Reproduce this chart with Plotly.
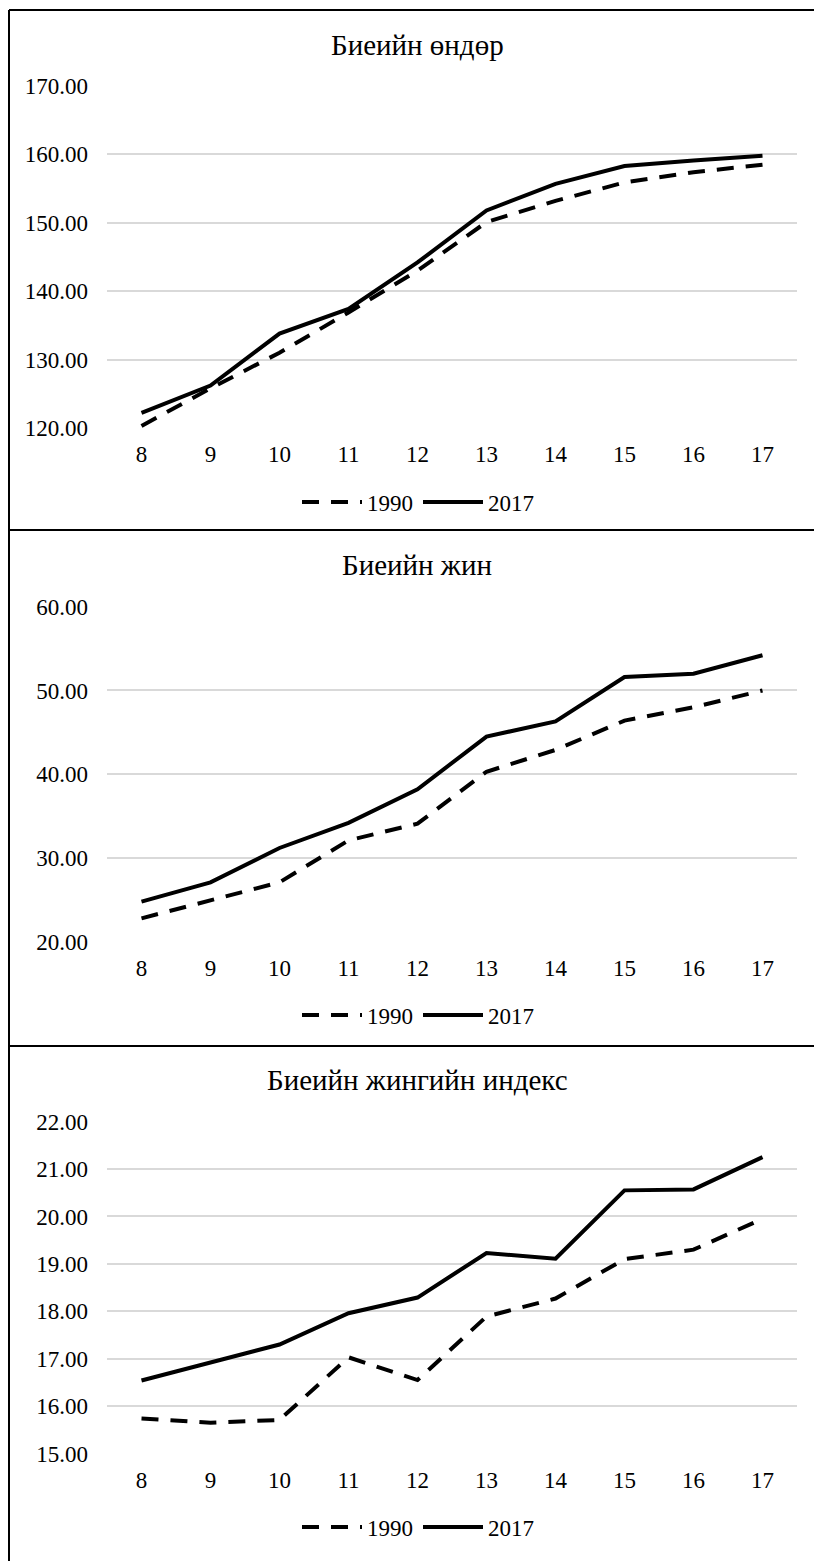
import plotly.graph_objects as go

ages = ["8", "9", "10", "11", "12", "13", "14", "15", "16", "17"]

height_1990 = [120.3, 125.8, 131.0, 136.9, 143.0, 150.1, 153.2, 155.9, 157.4, 158.5]
height_2017 = [122.2, 126.2, 133.8, 137.4, 144.2, 151.8, 155.7, 158.3, 159.1, 159.8]

weight_1990 = [22.8, 24.9, 27.1, 32.1, 34.1, 40.3, 42.9, 46.4, 48.0, 50.0]
weight_2017 = [24.8, 27.1, 31.2, 34.2, 38.2, 44.5, 46.3, 51.6, 52.0, 54.2]

bmi_1990 = [15.74, 15.65, 15.71, 17.03, 16.55, 17.89, 18.27, 19.10, 19.30, 19.95]
bmi_2017 = [16.54, 16.92, 17.30, 17.96, 18.29, 19.23, 19.11, 20.55, 20.57, 21.25]

titles = ["Биеийн өндөр", "Биеийн жин", "Биеийн жингийн индекс"]
series_names = ["1990", "2017"]
y_ranges = [[120, 170], [20, 60], [15, 22]]
y_dtick = [10, 10, 1]

W, H = 814, 1561
FONT = "Liberation Serif, Times New Roman, serif"

def py(px):
    return 1 - px / H

# pixel layout
plot_x = (107 / W, 797 / W)
plot_y = [(86, 428), (606.7, 941.8), (1121.6, 1453.6)]
title_y = [45, 565, 1080]
legend_y = [502, 1015, 1527]
panel_tops = [10, 530, 1046]

fig = go.Figure()

data = [(height_1990, height_2017), (weight_1990, weight_2017), (bmi_1990, bmi_2017)]

for i, (s90, s17) in enumerate(data):
    k = "" if i == 0 else str(i + 1)
    leg = "legend" if i == 0 else f"legend{i + 1}"
    fig.add_trace(go.Scatter(x=ages, y=s90, mode="lines", name=series_names[0],
                             line=dict(color="black", width=4, dash="17px,12px"),
                             xaxis="x" + k, yaxis="y" + k, legend=leg))
    fig.add_trace(go.Scatter(x=ages, y=s17, mode="lines", name=series_names[1],
                             line=dict(color="black", width=4),
                             xaxis="x" + k, yaxis="y" + k, legend=leg))

layout = dict(
    width=W, height=H,
    margin=dict(l=0, r=0, t=0, b=0, autoexpand=False),
    paper_bgcolor="white", plot_bgcolor="white",
    font=dict(family=FONT, size=23, color="black"),
    showlegend=True,
)

for i in range(3):
    k = "" if i == 0 else str(i + 1)
    top, bot = plot_y[i]
    layout["xaxis" + k] = dict(
        domain=list(plot_x), anchor="y" + k, type="category",
        range=[-0.5, 9.5], showgrid=False, showline=False, zeroline=False,
        ticks="", tickfont=dict(family=FONT, size=23, color="black"),
        ticklabelstandoff=10, automargin=False,
    )
    layout["yaxis" + k] = dict(
        domain=[py(bot), py(top)], anchor="x" + k,
        range=y_ranges[i], dtick=y_dtick[i], tick0=y_ranges[i][0],
        tickformat=".2f", showgrid=True, gridcolor="#d9d9d9", gridwidth=1.5,
        zeroline=False, showline=False, ticks="",
        tickfont=dict(family=FONT, size=23, color="black"),
        ticklabelstandoff=18, automargin=False,
    )
    lk = "legend" if i == 0 else f"legend{i + 1}"
    layout[lk] = dict(
        orientation="h", x=418 / W, y=py(legend_y[i]),
        xanchor="center", yanchor="middle",
        font=dict(family=FONT, size=23, color="black"),
        bgcolor="rgba(0,0,0,0)", itemwidth=60, tracegroupgap=0,
    )

fig.update_layout(**layout)

for i in range(3):
    fig.add_annotation(text=titles[i], x=417 / W, y=py(title_y[i]),
                       xref="paper", yref="paper", showarrow=False,
                       xanchor="center", yanchor="middle",
                       font=dict(family=FONT, size=29, color="black"))

# panel borders
fig.add_shape(type="line", xref="paper", yref="paper",
              x0=9 / W, x1=9 / W, y0=-0.01, y1=py(10),
              line=dict(color="black", width=2))
for t in panel_tops:
    fig.add_shape(type="line", xref="paper", yref="paper",
                  x0=9 / W, x1=1.01, y0=py(t), y1=py(t),
                  line=dict(color="black", width=2))

fig.write_html("out.html", config={"displayModeBar": False},
               post_script="document.body.style.margin='0';")
